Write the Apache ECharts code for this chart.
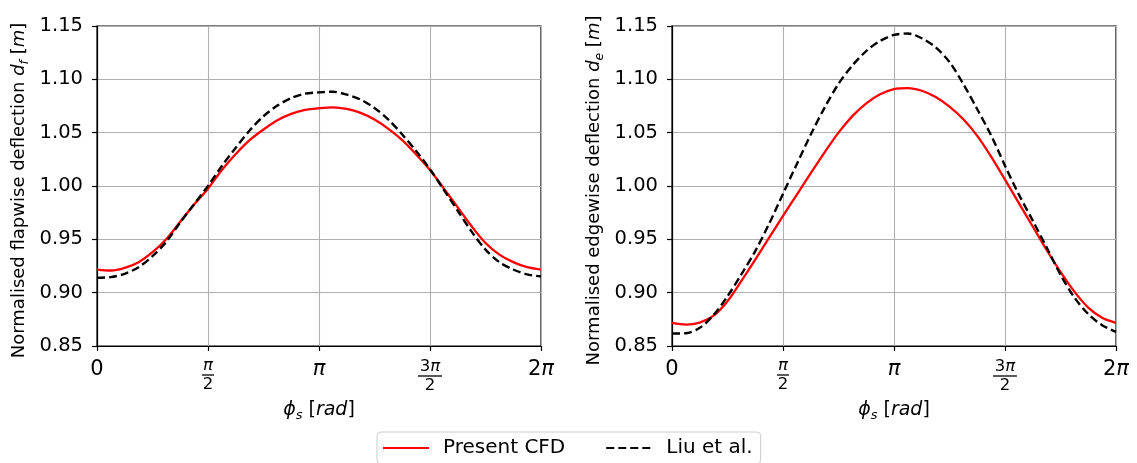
<!DOCTYPE html>
<html><head><meta charset="utf-8">
<script src="https://cdn.jsdelivr.net/npm/echarts@6/dist/echarts.min.js"></script>
<style>html,body{margin:0;padding:0;background:#fff}#c{width:1137px;height:463px}</style>
</head><body><div id="c"></div>
<script>
// phase angle (rad), steps of pi/16 from 0 to 2*pi
const phi = [0, 0.19635, 0.3927, 0.58905, 0.7854, 0.98175, 1.1781, 1.37445, 1.5708, 1.76715, 1.9635, 2.15984, 2.35619, 2.55254, 2.74889, 2.94524, 3.14159,
  3.33794, 3.53429, 3.73064, 3.92699, 4.12334, 4.31969, 4.51604, 4.71239, 4.90874, 5.10509, 5.30144, 5.49779, 5.69414, 5.89049, 6.08684, 6.28318];
// flapwise (left panel)
const flapCFD = [0.9217, 0.9208, 0.9233, 0.9286, 0.9379, 0.9503, 0.9665, 0.9827, 0.9975, 1.0150, 1.0300, 1.0430, 1.0530, 1.0617, 1.0676, 1.0713, 1.0729,
  1.0738, 1.0722, 1.0685, 1.0623, 1.0536, 1.0430, 1.0296, 1.0150, 0.9976, 0.9799, 0.9622, 0.9466, 0.9357, 0.9286, 0.9239, 0.9217];
const flapLiu = [0.9140, 0.9146, 0.9177, 0.9239, 0.9342, 0.9478, 0.9659, 0.9830, 1.0001, 1.0188, 1.0359, 1.0520, 1.0654, 1.0754, 1.0825, 1.0866, 1.0878,
  1.0884, 1.0856, 1.0810, 1.0732, 1.0623, 1.0483, 1.0328, 1.0157, 0.9964, 0.9768, 0.9572, 0.9404, 0.9286, 0.9217, 0.9171, 0.9152];
// edgewise (right panel)
const edgeCFD = [0.8717, 0.8701, 0.8720, 0.8785, 0.8920, 0.9110, 0.9310, 0.9515, 0.9720, 0.9920, 1.0120, 1.0315, 1.0500, 1.0655, 1.0775, 1.0860, 1.0909,
  1.0918, 1.0893, 1.0835, 1.0745, 1.0625, 1.0470, 1.0275, 1.0060, 0.9840, 0.9620, 0.9400, 0.9195, 0.9010, 0.8860, 0.8765, 0.8717];
const edgeLiu = [0.8617, 0.8620, 0.8670, 0.8790, 0.8966, 0.9172, 0.9390, 0.9646, 0.9927, 1.0207, 1.0483, 1.0735, 1.0958, 1.1130, 1.1265, 1.1360, 1.1416,
  1.1430, 1.1385, 1.1300, 1.1162, 1.0955, 1.0720, 1.0474, 1.0190, 0.9920, 0.9675, 0.9425, 0.9168, 0.8955, 0.8800, 0.8695, 0.8633];
const seriesNames = ['Present CFD', 'Liu et al.'];
const xTickLabels = ['{m|0}', '{fi|π}\n{b1| }\n{fn|2}', '{mi|π}', '{fn|3}{fi|π}\n{b2| }\n{fn|2}', '{m|2}{mi|π}'];
const yLabels = [
  '{t|Normalised flapwise deflection }{i|d}{s|f}{t| [}{i|m}{t|]}',
  '{t|Normalised edgewise deflection }{i|d}{s|e}{t| [}{i|m}{t|]}'
];
const xLabel = '{i|ϕ}{s|s}{t| [}{i|rad}{t|]}';

const FF = 'DejaVu Sans';
const pair = (xs, ys) => xs.map((x, i) => [x, ys[i]]);

const xRich = {
  m: {fontSize: 21, fontFamily: FF, color: '#000'},
  mi: {fontSize: 21, fontFamily: FF, fontStyle: 'italic', color: '#000'},
  fi: {fontSize: 16.5, fontFamily: FF, fontStyle: 'italic', color: '#000', lineHeight: 14},
  fn: {fontSize: 16.5, fontFamily: FF, color: '#000', lineHeight: 15},
  b1: {width: 12, height: 1.3, backgroundColor: '#000', fontSize: 1, lineHeight: 4},
  b2: {width: 24, height: 1.3, backgroundColor: '#000', fontSize: 1, lineHeight: 4}
};
function nameRich(fs) {
  return {
    t: {fontSize: fs, fontFamily: FF, color: '#000', lineHeight: 24},
    i: {fontSize: fs, fontFamily: FF, fontStyle: 'italic', color: '#000', lineHeight: 24},
    s: {fontSize: fs * 0.68, fontFamily: FF, fontStyle: 'italic', color: '#000', lineHeight: 24, verticalAlign: 'bottom'}
  };
}

function xAxis(idx) {
  return {
    type: 'value', gridIndex: idx, min: 0, max: 2 * Math.PI, interval: Math.PI / 2,
    name: xLabel, nameLocation: 'middle', nameGap: 52,
    nameTextStyle: {rich: nameRich(19)},
    axisLine: {show: true, onZero: false, lineStyle: {color: '#000', width: 1.2}},
    axisTick: {show: true, length: 5, lineStyle: {color: '#000', width: 1.2}},
    splitLine: {show: true, lineStyle: {color: '#b0b0b0', width: 1.1}},
    axisLabel: {
      margin: 13, color: '#000', verticalAlign: 'top',
      formatter: v => xTickLabels[Math.round(v / (Math.PI / 2))],
      rich: xRich
    }
  };
}
function yAxis(idx) {
  return {
    type: 'value', gridIndex: idx, min: 0.85, max: 1.15, interval: 0.05,
    name: yLabels[idx], nameLocation: 'middle', nameGap: 66, nameRotate: 90,
    nameTextStyle: {rich: nameRich(18), padding: [0, 9, 0, 0]},
    axisLine: {show: true, onZero: false, lineStyle: {color: '#000', width: 1.2}},
    axisTick: {show: true, length: 5, lineStyle: {color: '#000', width: 1.2}},
    splitLine: {show: true, lineStyle: {color: '#b0b0b0', width: 1.1}},
    axisLabel: {margin: 14, color: '#000', fontSize: 19.5, fontFamily: FF, formatter: v => v.toFixed(2)}
  };
}
function line(name, data, xi, dashed) {
  return {
    name, type: 'line', xAxisIndex: xi, yAxisIndex: xi, data, symbol: 'none', smooth: 0.3,
    clip: true, animation: false,
    lineStyle: dashed ? {color: '#000', width: 2.4, type: [8, 4]} : {color: '#ff0000', width: 2.3},
    itemStyle: {color: dashed ? '#000' : '#ff0000'},
    z: dashed ? 3 : 2
  };
}

const chart = echarts.init(document.getElementById('c'), null, {renderer: 'canvas'});
chart.setOption({
  animation: false,
  backgroundColor: '#fff',
  grid: [
    {left: 97, top: 26, width: 444, height: 320, show: true, borderColor: '#000', borderWidth: 1.2, backgroundColor: 'transparent'},
    {left: 672, top: 26, width: 444, height: 320, show: true, borderColor: '#000', borderWidth: 1.2, backgroundColor: 'transparent'}
  ],
  xAxis: [xAxis(0), xAxis(1)],
  yAxis: [yAxis(0), yAxis(1)],
  legend: {
    data: seriesNames, left: 377, top: 432, orient: 'horizontal',
    itemWidth: 46, itemHeight: 14, itemGap: 40,
    padding: [6, 8, 6, 5], borderColor: '#cccccc', borderWidth: 1, borderRadius: 4,
    backgroundColor: '#fff',
    itemStyle: {color: 'transparent', borderColor: 'transparent', borderWidth: 0, opacity: 0},
    textStyle: {fontSize: 20, fontFamily: FF, color: '#000', padding: [0, 0, 0, 9]}
  },
  series: [
    line(seriesNames[0], pair(phi, flapCFD), 0, false),
    line(seriesNames[1], pair(phi, flapLiu), 0, true),
    line(seriesNames[0], pair(phi, edgeCFD), 1, false),
    line(seriesNames[1], pair(phi, edgeLiu), 1, true)
  ]
});
</script>
</body></html>
